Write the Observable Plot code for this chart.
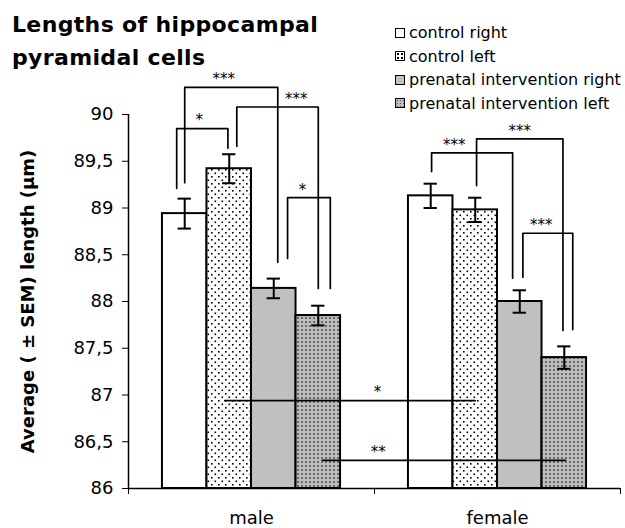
<!DOCTYPE html>
<html>
<head>
<meta charset="utf-8">
<script src="https://cdn.jsdelivr.net/npm/d3@7"></script>
<script src="https://cdn.jsdelivr.net/npm/@observablehq/plot@0.6"></script>
<style>
  body { margin: 0; background: #fff; }
  #wrap { position: relative; width: 625px; height: 528px; }
  #title { position: absolute; left: 12px; top: 8px; font: bold 22px/33px "DejaVu Sans"; letter-spacing: 0.35px; color: #000; white-space: nowrap; }
  #legend { position: absolute; left: 395px; top: 21px; font: 16px "DejaVu Sans"; color: #000; }
  .row { display: flex; align-items: center; height: 23.5px; white-space: nowrap; }
  .sw { width: 10px; height: 10px; box-sizing: border-box; border: 1.5px solid #000; margin-right: 4px; }
</style>
</head>
<body>
<div id="wrap">
  <div id="chart"></div>
  <div id="title">Lengths of hippocampal<br>pyramidal cells</div>
  <div id="legend"></div>
</div>
<script>
// ---- data ----
const sexes = ["male", "female"];
const series = ["control right", "control left", "prenatal intervention right", "prenatal intervention left"];
const meanMale = [88.94, 89.42, 88.14, 87.85];
const meanFemale = [89.13, 88.98, 88.00, 87.40];
const semMale = [0.16, 0.155, 0.105, 0.105];
const semFemale = [0.13, 0.13, 0.12, 0.12];
const yTicks = [86, 86.5, 87, 87.5, 88, 88.5, 89, 89.5, 90];
const yLabel = "Average ( ± SEM) length (µm)";

// significance brackets: [sex index, series index] of each end
const bracketFrom = [[0,0],[0,0],[0,1],[0,2],[1,0],[1,1],[1,2],[0,1],[0,3]];
const bracketTo   = [[0,1],[0,2],[0,3],[0,3],[1,2],[1,3],[1,3],[1,1],[1,3]];
const bracketLevel   = [89.85, 90.29, 90.08, 89.11, 89.59, 89.74, 88.73, 86.94, 86.30];
const bracketLegFrom = [89.21, 89.27, 89.66, 88.46, 89.39, 89.24, 88.26, 86.94, 86.30];
const bracketLegTo   = [89.64, 88.42, 88.14, 88.14, 88.25, 87.69, 87.70, 86.94, 86.30];
const bracketLabel   = ["*", "***", "***", "*", "***", "***", "***", "*", "**"];
// leg offsets from bar centre (fraction of bar width) and label position along bracket
const bracketShiftFrom = [-0.18, 0, 0.17, 0.31, 0.02, 0.03, 0.07, -0.10, 0.09];
const bracketShiftTo   = [-0.03, 0.09, 0, 0.27, -0.16, -0.03, 0.19, 0, 0.03];
const bracketLabelAt   = [0.44, 0.42, 0.73, 0.35, 0.28, 0.5, 0.37, 0.61, 0.23];

// ---- styles ----
const fills = ["white", "url(#dotsLight)", "#c0c0c0", "url(#dotsDark)"];
const legendBg = [
  "background:#fff",
  "background:#fff radial-gradient(#000 0.8px, transparent 1px) 0 0/4px 4px",
  "background:#c0c0c0",
  "background:#bdbdbd radial-gradient(#555 0.8px, transparent 1px) 0 0/3px 3px"
];
const BW = 0.181;   // bar width in x units
const CAP = 0.027;  // half error-bar cap width in x units

// ---- build table ----
const means = [meanMale, meanFemale];
const sems = [semMale, semFemale];
const xc = (g, k) => g + 0.5 + (k - 1.5) * BW;
const bars = [];
sexes.forEach((s, g) => series.forEach((name, k) => {
  bars.push({sex: s, series: name, mean: means[g][k], sem: sems[g][k], x: xc(g, k)});
}));

const bracketPts = [];
const labels = [];
bracketFrom.forEach((f, i) => {
  const t = bracketTo[i];
  const xa = xc(f[0], f[1]) + bracketShiftFrom[i] * BW;
  const xb = xc(t[0], t[1]) + bracketShiftTo[i] * BW;
  bracketPts.push({id: i, x: xa, y: bracketLegFrom[i]});
  bracketPts.push({id: i, x: xa, y: bracketLevel[i]});
  bracketPts.push({id: i, x: xb, y: bracketLevel[i]});
  bracketPts.push({id: i, x: xb, y: bracketLegTo[i]});
  labels.push({x: xa + (xb - xa) * bracketLabelAt[i], y: bracketLevel[i], text: bracketLabel[i]});
});

const chart = Plot.plot({
  width: 625,
  height: 528,
  marginLeft: 128,
  marginRight: 5,
  marginTop: 114,
  marginBottom: 40,
  style: {fontFamily: "DejaVu Sans", fontSize: "18px", color: "#000", background: "#fff", overflow: "visible"},
  x: {domain: [0, 2]},
  y: {domain: [86, 90]},
  color: {type: "ordinal", domain: series, range: fills},
  marks: [
    Plot.rect(bars, {x1: d => d.x - BW / 2, x2: d => d.x + BW / 2, y1: 86, y2: "mean", fill: "series", stroke: "#000", strokeWidth: 2}),
    Plot.ruleX(bars, {x: "x", y1: d => d.mean - d.sem, y2: d => d.mean + d.sem, stroke: "#000", strokeWidth: 2}),
    Plot.ruleY(bars, {y: d => d.mean + d.sem, x1: d => d.x - CAP, x2: d => d.x + CAP, stroke: "#000", strokeWidth: 2}),
    Plot.ruleY(bars, {y: d => d.mean - d.sem, x1: d => d.x - CAP, x2: d => d.x + CAP, stroke: "#000", strokeWidth: 2}),
    Plot.line(bracketPts, {x: "x", y: "y", z: "id", stroke: "#000", strokeWidth: 1.7, curve: "linear"}),
    Plot.text(labels, {x: "x", y: "y", text: "text", fontSize: 15, dy: -8, fill: "#000"}),
    Plot.ruleX([0], {y1: 86, y2: 90, stroke: "#000", strokeWidth: 1.5}),
    Plot.ruleY([86], {x1: 0, x2: 2, stroke: "#000", strokeWidth: 1.5}),
    Plot.axisY({ticks: yTicks, tickFormat: d => String(d).replace(".", ","), tickSize: 6, tickPadding: 9, fontSize: 18, label: null}),
    Plot.axisX({ticks: [0, 1, 2], tickFormat: () => "", tickSize: 6, label: null}),
    Plot.text(sexes, {x: (d, i) => i + 0.5, y: 86, text: d => d, dy: 30, fontSize: 18, fill: "#000"}),
    Plot.text([yLabel], {frameAnchor: "left", textAnchor: "middle", text: d => d, rotate: -90, dx: -100, fontSize: 18, fontWeight: "bold", fill: "#000"})
  ]
});

// patterns
const ns = "http://www.w3.org/2000/svg";
const defs = document.createElementNS(ns, "defs");
defs.innerHTML = `
  <pattern id="dotsLight" patternUnits="userSpaceOnUse" width="7" height="7">
    <rect width="7" height="7" fill="#fff"/>
    <rect x="1" y="1" width="1.6" height="1.6" fill="#000"/>
    <rect x="4.5" y="4.5" width="1.6" height="1.6" fill="#000"/>
  </pattern>
  <pattern id="dotsDark" patternUnits="userSpaceOnUse" width="4" height="4">
    <rect width="4" height="4" fill="#bdbdbd"/>
    <rect x="1" y="1" width="2" height="2" fill="#6a6a6a"/>
  </pattern>`;
chart.insertBefore(defs, chart.firstChild);
document.getElementById("chart").appendChild(chart);

// legend
const leg = document.getElementById("legend");
series.forEach((s, k) => {
  const row = document.createElement("div");
  row.className = "row";
  row.innerHTML = `<div class="sw" style="${legendBg[k]}"></div><span>${s}</span>`;
  leg.appendChild(row);
});
</script>
</body>
</html>
